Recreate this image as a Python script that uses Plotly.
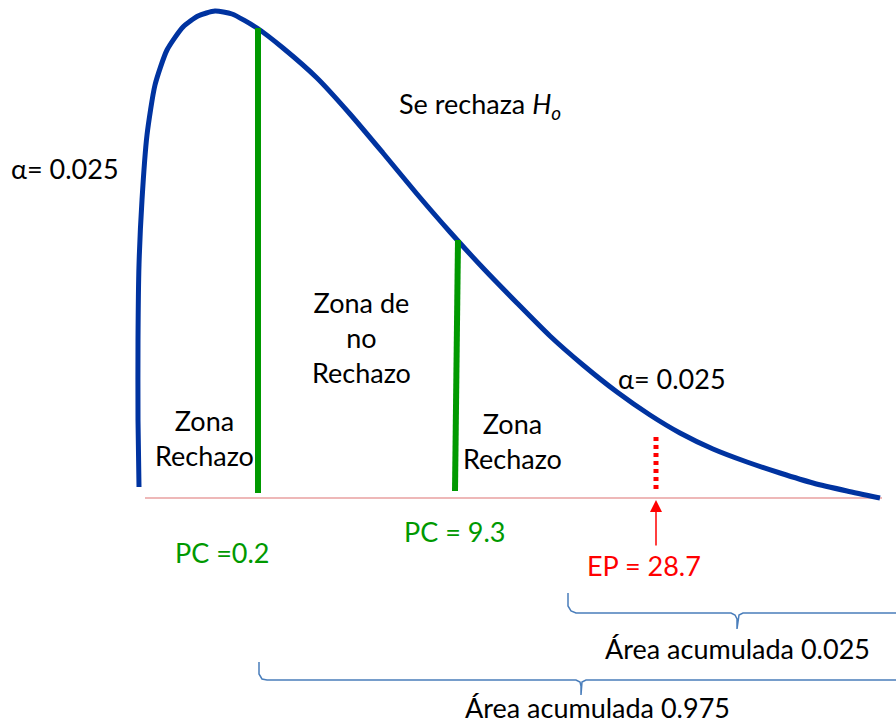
"""
    Chi-square style rejection-zone diagram, redrawn in plotly
"""

import plotly.graph_objects as go

## curve (pixel coordinates of the slide)
curve_x = [139, 138, 138, 139, 142, 147, 155, 167, 183, 198, 215, 232, 257,
           283, 317, 350, 383, 417, 450, 483, 517, 550, 583, 617, 650,
           680, 713, 747, 780, 813, 847, 880]
curve_y = [487, 420, 340, 265, 200, 135, 85, 50, 27, 16, 11, 14, 28,
           48, 78, 114, 153, 194, 232, 268, 303, 336, 365, 392, 415,
           433, 449, 462, 473, 483, 491, 498]

## critical value lines
pc_x0 = [258, 258]
pc_y0 = [28, 493]
pc_x1 = [458, 455]
pc_y1 = [240, 491]
ep_x = [656, 656]
ep_y = [437, 493]

## baseline
base_x = [145, 882]
base_y = [498, 498]

## braces
brace1_x = [568, 568, 571, 576, 731, 735, 737, 737, 739, 743, 896]
brace1_y = [593, 606, 611, 613, 613, 615, 619, 629, 615, 613, 613]
brace2_x = [259, 259, 262, 267, 576, 580, 581, 581, 582, 586, 896]
brace2_y = [662, 674, 679, 680, 680, 682, 686, 695, 682, 680, 680]

## labels
labels = [
    ('α= 0.025', 65, 168, 'black'),
    ('Se rechaza <i>H<sub>o</sub></i>', 480, 105, 'black'),
    ('Zona de<br>no<br>Rechazo', 361, 337, 'black'),
    ('α= 0.025', 672, 378, 'black'),
    ('Zona<br>Rechazo', 204, 438, 'black'),
    ('Zona<br>Rechazo', 512, 441, 'black'),
    ('PC =0.2', 222, 552, '#009900'),
    ('PC = 9.3', 454, 531, '#009900'),
    ('EP = 28.7', 644, 565, '#ff0000'),
    ('Área acumulada 0.025', 737, 648, 'black'),
    ('Área acumulada 0.975', 597, 707, 'black'),
]

fig = go.Figure()

fig.add_trace(go.Scatter(x=base_x, y=base_y, mode='lines',
                         line=dict(color='#e8a0a0', width=1.5)))
fig.add_trace(go.Scatter(x=curve_x, y=curve_y, mode='lines',
                         line=dict(color='#0033a0', width=5, shape='spline', smoothing=0.6)))
fig.add_trace(go.Scatter(x=pc_x0, y=pc_y0, mode='lines',
                         line=dict(color='#009900', width=6)))
fig.add_trace(go.Scatter(x=pc_x1, y=pc_y1, mode='lines',
                         line=dict(color='#009900', width=6)))
fig.add_trace(go.Scatter(x=ep_x, y=ep_y, mode='lines',
                         line=dict(color='#ff0000', width=5, dash='4px,4px')))
for bx, by in [(brace1_x, brace1_y), (brace2_x, brace2_y)]:
    fig.add_trace(go.Scatter(x=bx, y=by, mode='lines',
                             line=dict(color='#4a7ebb', width=1.5)))

for txt, x, y, col in labels:
    fig.add_annotation(x=x, y=y, text=txt, showarrow=False,
                       font=dict(color=col, size=27), align='center')

## arrow pointing at EP
fig.add_annotation(x=656, y=500, ax=656, ay=547, axref='x', ayref='y', text='',
                   showarrow=True, arrowhead=2, arrowsize=1.6, arrowwidth=1.5,
                   arrowcolor='#ff0000')

fig.update_layout(
    width=896, height=724, margin=dict(l=0, r=0, t=0, b=0),
    plot_bgcolor='white', paper_bgcolor='white', showlegend=False,
    font=dict(family='Lato, Open Sans, sans-serif'),
    xaxis=dict(range=[0, 896], visible=False, fixedrange=True),
    yaxis=dict(range=[724, 0], visible=False, fixedrange=True),
)

## drop the default page margin so the figure sits at the window corner
fig.write_html('out.html', post_script="document.body.style.margin='0';",
               config=dict(displayModeBar=False))
